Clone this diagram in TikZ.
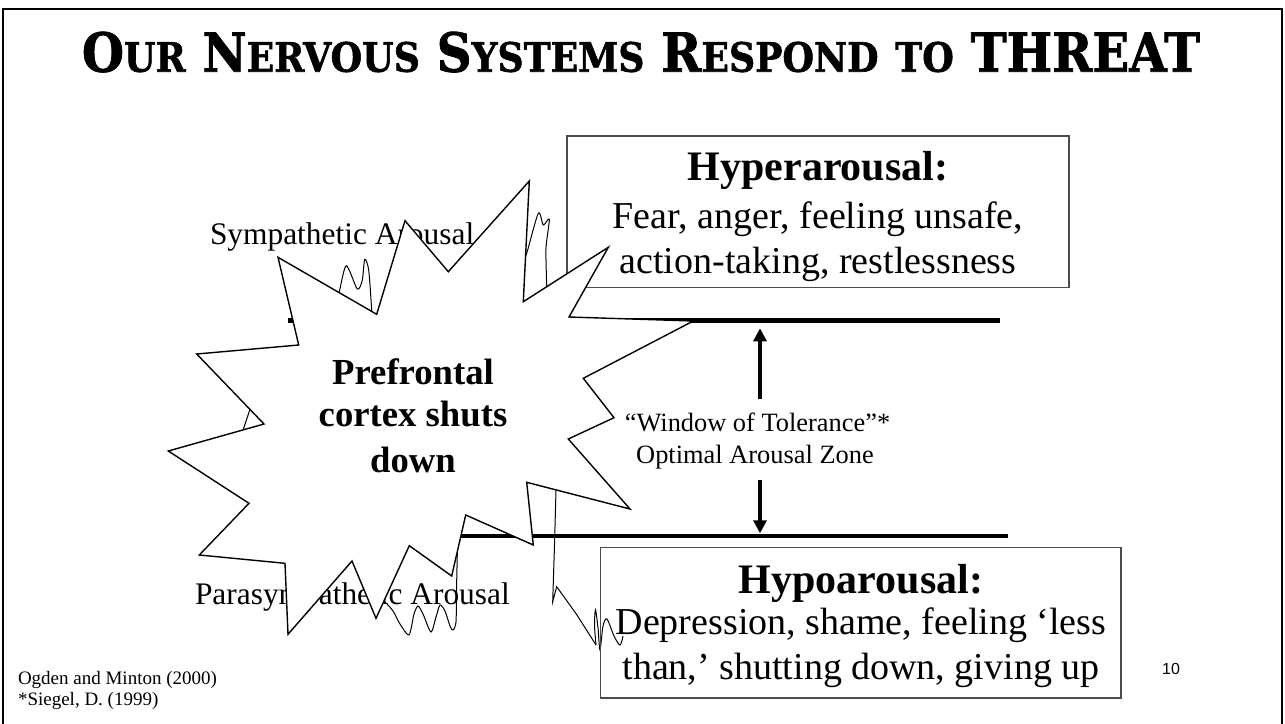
\documentclass[tikz,border=0pt]{standalone}
\usepackage{fontspec}
\setmainfont{Liberation Serif}
\newfontfamily\titlefont[BoldFeatures={FakeBold=1.5}]{DejaVu Serif}
\newfontfamily\pgnumfont{Liberation Sans}
\usetikzlibrary{arrows.meta}
\newcommand{\TBig}[1]{{\fontsize{50}{50}\selectfont #1}}
\newcommand{\TSm}[1]{{\fontsize{37.5}{50}\selectfont #1}}
\newcommand{\fsz}[1]{\fontsize{#1}{#1}\selectfont}
\begin{document}
\begin{tikzpicture}[x=1pt,y=-1pt,
  txt/.style={inner sep=0pt, outer sep=0pt},
  boxst/.style={draw=black!70, line width=1.3pt, inner sep=0pt},
  thickline/.style={line width=4.6pt},
  burst/.style={draw=black, fill=white, line width=1.4pt, line join=miter},
  wave/.style={draw=black, line width=1pt},
  arr/.style={line width=4pt, -{Triangle[width=13pt,length=13pt]}},
]
\useasboundingbox (0,0) rectangle (1285,723);
\fill[white] (0,0) rectangle (1285,723);
\draw[line width=2.5pt] (3,724) -- (3,9) -- (1282,9) -- (1282,724);

% title
\node[txt, anchor=base] (title) at (641,71.7) {\resizebox{1118pt}{40pt}{\titlefont\bfseries\fsz{50}\TBig{O}\TSm{UR} \TBig{N}\TSm{ERVOUS} \TBig{S}\TSm{YSTEMS} \TBig{R}\TSm{ESPOND} \TSm{TO} \TBig{THREAT}}};

% side labels (partly hidden by the burst)
\node[txt, anchor=base west] (symp) at (210,244) {\fsz{31.4}Sympathetic Arousal};
\node[txt, anchor=base west] (para) at (195,604) {\fsz{31.4}Parasympathetic Arousal};

% limit lines
\coordinate (upL) at (288,320.5);
\coordinate (upR) at (1000,320.5);
\coordinate (loL) at (440,536);
\coordinate (loR) at (1008,536);
\draw[thickline] (upL) -- (upR);
\draw[thickline] (loL) -- (loR);

% hyperarousal box
\node[boxst, minimum width=502pt, minimum height=151.3pt] (hyperbox) at (818,211.65) {};
\node[txt, anchor=base] (hyperhead) at (818,180) {\fsz{42}\bfseries Hyperarousal:};
\node[txt, anchor=base] (hyperl1) at (818,228.3) {\fsz{38}Fear, anger, feeling unsafe,};
\node[txt, anchor=base] (hyperl2) at (818,273.3) {\fsz{38}action-taking, restlessness};

% wavy arousal curve pieces (behind the burst)
\draw[wave] plot[smooth, tension=0.45] coordinates {(337,298) (339.3,291.7) (346.3,265.7) (357.3,289) (362.3,280) (364.7,259.3) (368.7,270) (371.7,310) (372,318)};
\draw[wave] plot[smooth, tension=0.45] coordinates {(522,264) (526.7,253.3) (538.3,213.3) (543.3,225) (549.3,219.3) (546,248.3) (546.7,286.7) (546.8,293)};
\draw[wave] plot[smooth, tension=0.45] coordinates {(378,596) (386,603) (393,611) (400,624) (409,635) (414,614) (418,606) (423,614) (431,632) (436,617) (440,605) (445,611) (450,626) (453,630) (456,622) (456.5,590) (457.5,545)};
\draw[wave] (556.3,480) -- (556,490) -- (554.5,545) -- (552.7,601.7) -- (556.7,586.7) -- (577,615) -- (596,645);
\draw[wave] plot[smooth, tension=0.5] coordinates {(596,645) (594.5,625) (595.5,610) (598,628) (600,650) (603,626) (607,619) (614,636) (620,645) (623,636)};

% the burst
\draw[burst] (278,257.3) -- (376.7,314.3) -- (405,220.7) -- (448.3,271.7) -- (529.3,181) -- (523.3,301.7) -- (608.3,247.3) -- (569,317) -- (693.3,321) -- (583.3,378.3) -- (614,417.7) -- (568.3,439) -- (630,509) -- (526.7,482.3) -- (533.3,545) -- (465.7,515) -- (451.7,576) -- (409.3,545.7) -- (376,618.3) -- (352,561) -- (288,634.3) -- (285,563.3) -- (199.3,555) -- (249,503.3) -- (168.3,451) -- (264,424) -- (196.7,354) -- (298.7,345) -- cycle;
\draw[wave] (250,409.3) -- (243.3,429.3);

\node[txt, anchor=base] (pf1) at (413,384) {\fsz{36.7}\bfseries Prefrontal};
\node[txt, anchor=base] (pf2) at (413,426.7) {\fsz{36.7}\bfseries cortex shuts};
\node[txt, anchor=base] (pf3) at (413,472.7) {\fsz{36.7}\bfseries down};

% window of tolerance
\node[txt, anchor=base] (win1) at (757.5,431.7) {\fsz{26.4}“Window of Tolerance”*};
\node[txt, anchor=base] (win2) at (755,463.3) {\fsz{26.4}Optimal Arousal Zone};
\coordinate (upS) at (760,399.3);
\coordinate (upT) at (760,328.3);
\coordinate (dnS) at (760,480);
\coordinate (dnT) at (760,533.3);
\draw[arr] (upS) -- (upT);
\draw[arr] (dnS) -- (dnT);

% hypoarousal box
\node[boxst, minimum width=520.3pt, minimum height=150.7pt] (hypobox) at (860.85,622.65) {};
\node[txt, anchor=base] (hypohead) at (861,593.3) {\fsz{42}\bfseries Hypoarousal:};
\node[txt, anchor=base] (hypol1) at (861,634) {\fsz{38}Depression, shame, feeling ‘less};
\node[txt, anchor=base] (hypol2) at (861,679) {\fsz{38}than,’ shutting down, giving up};

% footnotes and page number
\node[txt, anchor=base west] (ref1) at (18,684) {\fsz{19}Ogden and Minton (2000)};
\node[txt, anchor=base west] (ref2) at (18,705) {\fsz{19}*Siegel, D. (1999)};
\node[txt, anchor=base] (pgnum) at (1171,674) {\pgnumfont\fsz{16}10};
\end{tikzpicture}
\end{document}
